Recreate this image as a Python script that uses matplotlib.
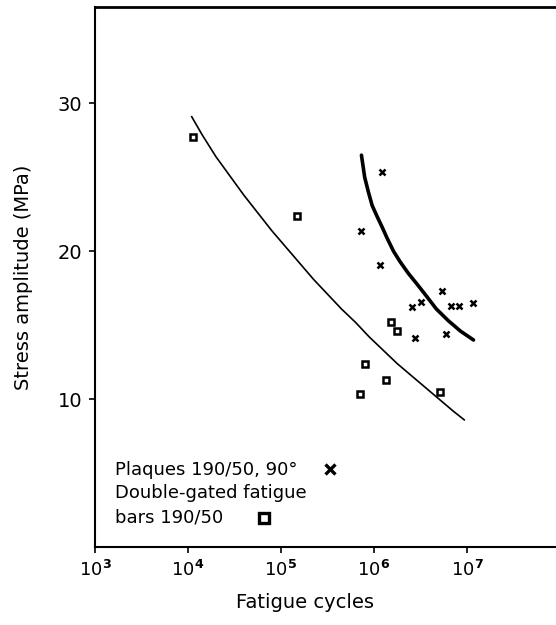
import matplotlib
matplotlib.use("Agg")
import matplotlib.pyplot as plt
import numpy as np

plt.rcParams['font.family'] = ['DejaVu Sans']
plt.rcParams['mathtext.default'] = 'regular'

# Data
bars_cycles = [1.12e4, 1.49e5, 1.53e6, 1.77e6, 8.05e5, 1.34e6, 7.06e5, 5.1e6]
bars_stress = [27.75, 22.36, 15.2, 14.6, 12.39, 11.32, 10.34, 10.5]

plaques_cycles = [1.23e6, 7.25e5, 1.17e6, 5.32e6, 2.57e6, 3.19e6, 6.74e6, 8.24e6, 1.15e7, 2.75e6, 5.96e6]
plaques_stress = [25.33, 21.39, 19.05, 17.3, 16.22, 16.54, 16.27, 16.33, 16.49, 14.12, 14.39]

bars_curve_logN = [4.04, 4.15, 4.30, 4.45, 4.60, 4.75, 4.90, 5.05, 5.20, 5.35, 5.50,
                   5.65, 5.80, 5.95, 6.10, 6.25, 6.40, 6.55, 6.70, 6.85, 6.97]
bars_curve_S = [29.1, 27.9, 26.4, 25.1, 23.8, 22.6, 21.4, 20.3, 19.2, 18.1, 17.1,
                16.1, 15.2, 14.2, 13.3, 12.4, 11.6, 10.8, 10.0, 9.2, 8.6]

plaques_curve_logN = [5.865, 5.90, 5.94, 5.98, 6.03, 6.09, 6.14, 6.21, 6.28, 6.37,
                      6.46, 6.56, 6.67, 6.80, 6.93, 7.07]
plaques_curve_S = [26.5, 25.0, 24.0, 23.1, 22.4, 21.6, 20.9, 20.0, 19.3, 18.5,
                   17.8, 17.0, 16.1, 15.3, 14.6, 14.0]

x_ticks = [1e3, 1e4, 1e5, 1e6, 1e7]
x_ticklabels = [r'$10^{\mathbf{3}}$', r'$10^{\mathbf{4}}$', r'$10^{\mathbf{5}}$',
                r'$10^{\mathbf{6}}$', r'$10^{\mathbf{7}}$']
y_ticks = [10, 20, 30]

fig = plt.figure(figsize=(5.56, 6.25), dpi=100)
ax = fig.add_axes([95/556, 78/625, 465/556, (547-7.3)/625])
ax.set_xscale('log')
ax.set_xlim(1e3, 1e8)
ax.set_ylim(0, 36.5)

ax.plot(10**np.array(bars_curve_logN), bars_curve_S, color='black', lw=1.2,
        solid_joinstyle='round')
ax.plot(10**np.array(plaques_curve_logN), plaques_curve_S, color='black', lw=2.6,
        solid_joinstyle='round', solid_capstyle='round')

ax.plot(bars_cycles, bars_stress, linestyle='none', marker='s', markersize=5,
        markerfacecolor='white', markeredgecolor='black', markeredgewidth=1.8)
ax.plot(plaques_cycles, plaques_stress, linestyle='none', marker='x', markersize=5,
        color='black', markeredgewidth=1.8)

ax.set_xticks(x_ticks)
ax.set_xticklabels(x_ticklabels)
ax.xaxis.set_minor_locator(matplotlib.ticker.NullLocator())
ax.set_yticks(y_ticks)
ax.tick_params(direction='out', length=4, width=1.2, colors='black')
ax.tick_params(axis='x', pad=5, labelsize=13)
ax.tick_params(axis='y', pad=5, labelsize=14)
for s in ax.spines.values():
    s.set_linewidth(1.5)
ax.spines['top'].set_linewidth(2)

ax.set_ylabel('Stress amplitude (MPa)', fontsize=14, labelpad=18)
fig.text(305/556, 1 - 603/625, 'Fatigue cycles', fontsize=14, ha='center', va='center')

# Legend text
def fx(px):
    return (px - 95) / 465
def fy(py):
    return (547 - py) / (547 - 7.3)

ax.text(fx(115), fy(470), 'Plaques 190/50, 90°', transform=ax.transAxes,
        fontsize=13, va='center', ha='left')
ax.text(fx(115), fy(493.5), 'Double-gated fatigue', transform=ax.transAxes,
        fontsize=13, va='center', ha='left')
ax.text(fx(115), fy(517), 'bars 190/50', transform=ax.transAxes,
        fontsize=13, va='center', ha='left')
ax.plot([fx(330)], [fy(469)], transform=ax.transAxes, marker='x', markersize=7,
        color='black', markeredgewidth=2.4, clip_on=False)
ax.plot([fx(264)], [fy(518)], transform=ax.transAxes, marker='s', markersize=7,
        markerfacecolor='white', markeredgecolor='black', markeredgewidth=2.4, clip_on=False)

fig.savefig('out.png', dpi=100)
